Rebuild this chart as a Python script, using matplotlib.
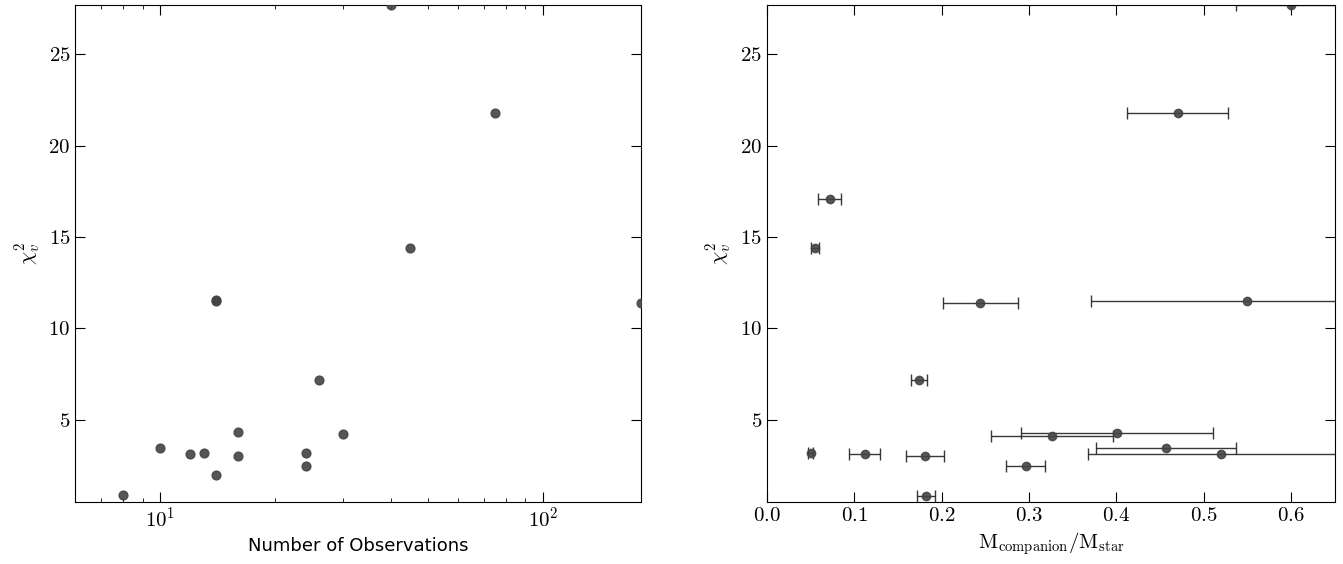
import numpy as np
import matplotlib
matplotlib.use('Agg')
import matplotlib.pyplot as plt

plt.rcParams['font.family'] = 'cmr10'
plt.rcParams['mathtext.fontset'] = 'cm'
plt.rcParams['axes.formatter.use_mathtext'] = True
plt.rcParams['font.size'] = 15

## left panel: chi2 vs number of observations
n_obs = [8, 10, 12, 13, 14, 14, 14, 16, 16, 24, 24, 26, 30, 40, 45, 75, 180]
chi_obs = [0.9, 3.45, 3.15, 3.2, 11.5, 11.55, 1.95, 4.35, 3.0, 3.2, 2.45, 7.2, 4.2, 27.7, 14.4, 21.8, 11.4]

## right panel: chi2 vs mass ratio
mass = [0.6, 0.47, 0.072, 0.055, 0.244, 0.549, 0.174, 0.401, 0.326, 0.05, 0.112, 0.457, 0.52, 0.181, 0.296, 0.182]
mass_err = [0.063, 0.058, 0.013, 0.005, 0.043, 0.178, 0.009, 0.11, 0.07, 0.003, 0.018, 0.08, 0.153, 0.022, 0.022, 0.01]
chi_mass = [27.7, 21.8, 17.1, 14.4, 11.4, 11.5, 7.2, 4.25, 4.1, 3.2, 3.15, 3.45, 3.1, 3.0, 2.45, 0.85]

fig = plt.figure(figsize=(13.43, 5.64), dpi=100)
ax1 = fig.add_axes([0.056, 0.11, 0.421, 0.881])
ax2 = fig.add_axes([0.571, 0.11, 0.423, 0.881])

ax1.scatter(n_obs, chi_obs, s=40, color='#444444', alpha=0.9, zorder=3)
ax1.set_xscale('log')
ax1.set_xlim(6, 180)
ax1.set_ylim(0.5, 27.7)
ax1.set_yticks([5, 10, 15, 20, 25])
ax1.set_xlabel('Number of Observations', family='DejaVu Sans', fontsize=13)
ax1.set_ylabel(r'$\chi^2_v$')

ax2.errorbar(mass, chi_mass, xerr=mass_err, fmt='o', ms=6, color='#444444',
             ecolor='#222222', elinewidth=1, capsize=4, alpha=0.9)
ax2.set_xlim(0, 0.65)
ax2.set_ylim(0.5, 27.7)
ax2.set_yticks([5, 10, 15, 20, 25])
ax2.set_xlabel(r'$\mathrm{M_{companion}/M_{star}}$')
ax2.set_ylabel(r'$\chi^2_v$')

for ax in (ax1, ax2):
    ax.tick_params(which='both', direction='in', top=True, right=True)
    ax.tick_params(which='major', length=7)
    ax.tick_params(which='minor', length=3)

fig.savefig('out.png')
